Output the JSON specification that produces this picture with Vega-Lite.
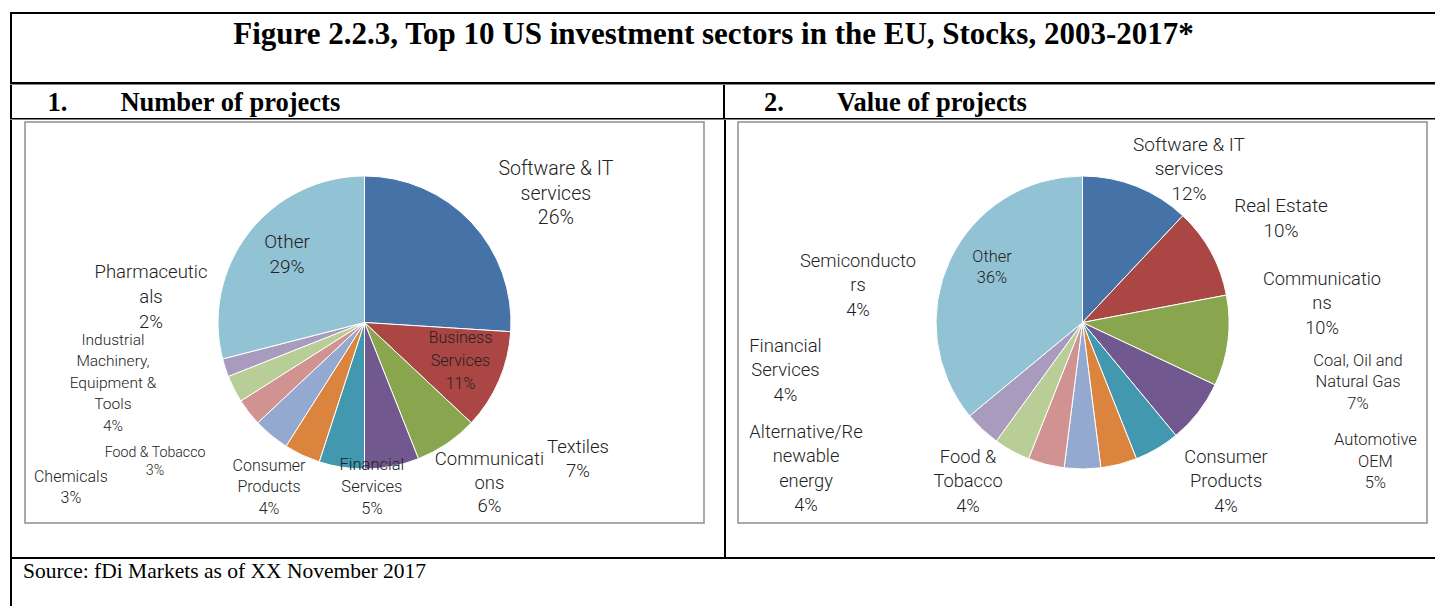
{
  "$schema": "https://vega.github.io/schema/vega-lite/v6.json",
  "padding": {"left": 10, "top": 12, "right": 0, "bottom": 0},
  "background": "white",
  "config": {
    "view": {"stroke": null},
    "text": {"font": "Roboto", "fontWeight": 300, "color": "#222222", "lineBreak": "\n", "align": "center", "baseline": "middle"}
  },
  "datasets": {
    "left": [
      {"sector": "Software & IT services", "label": "Software & IT\nservices", "share": 26, "order": 1},
      {"sector": "Business Services", "label": "Business\nServices", "share": 11, "order": 2},
      {"sector": "Textiles", "label": "Textiles", "share": 7, "order": 3},
      {"sector": "Communications", "label": "Communicati\nons", "share": 6, "order": 4},
      {"sector": "Financial Services", "label": "Financial\nServices", "share": 5, "order": 5},
      {"sector": "Consumer Products", "label": "Consumer\nProducts", "share": 4, "order": 6},
      {"sector": "Industrial Machinery, Equipment & Tools", "label": "Industrial\nMachinery,\nEquipment &\nTools", "share": 4, "order": 7},
      {"sector": "Food & Tobacco", "label": "Food & Tobacco", "share": 3, "order": 8},
      {"sector": "Chemicals", "label": "Chemicals", "share": 3, "order": 9},
      {"sector": "Pharmaceuticals", "label": "Pharmaceutic\nals", "share": 2, "order": 10},
      {"sector": "Other", "label": "Other", "share": 29, "order": 11}
    ],
    "right": [
      {"sector": "Software & IT services", "label": "Software & IT\nservices", "share": 12, "order": 1},
      {"sector": "Real Estate", "label": "Real Estate", "share": 10, "order": 2},
      {"sector": "Communications", "label": "Communicatio\nns", "share": 10, "order": 3},
      {"sector": "Coal, Oil and Natural Gas", "label": "Coal, Oil and\nNatural Gas", "share": 7, "order": 4},
      {"sector": "Automotive OEM", "label": "Automotive\nOEM", "share": 5, "order": 5},
      {"sector": "Consumer Products", "label": "Consumer\nProducts", "share": 4, "order": 6},
      {"sector": "Food & Tobacco", "label": "Food &\nTobacco", "share": 4, "order": 7},
      {"sector": "Alternative/Renewable energy", "label": "Alternative/Re\nnewable\nenergy", "share": 4, "order": 8},
      {"sector": "Financial Services", "label": "Financial\nServices", "share": 4, "order": 9},
      {"sector": "Semiconductors", "label": "Semiconducto\nrs", "share": 4, "order": 10},
      {"sector": "Other", "label": "Other", "share": 36, "order": 11}
    ]
  },
  "spacing": 0,
  "resolve": {"scale": {"color": "independent", "theta": "independent", "x": "independent", "y": "independent"}},
  "vconcat": [
    {"width": 1425, "height": 2, "data": {"values": []}, "mark": {"type": "point", "opacity": 0}, "view": {"fill": "black"}},
    {
      "spacing": 0,
      "hconcat": [
        {"width": 2, "height": 68, "data": {"values": []}, "mark": {"type": "point", "opacity": 0}, "view": {"fill": "black"}},
        {
          "width": 1423, "height": 68,
          "data": {"values": [{"t": "Figure 2.2.3, Top 10 US investment sectors in the EU, Stocks, 2003-2017*"}]},
          "mark": {"type": "text", "font": "Liberation Serif", "fontSize": 31, "fontWeight": "bold", "color": "black", "baseline": "alphabetic", "dx": -10, "dy": -4.5},
          "encoding": {"text": {"field": "t", "type": "nominal"}}
        }
      ]
    },
    {"width": 1425, "height": 2.5, "data": {"values": []}, "mark": {"type": "point", "opacity": 0}, "view": {"fill": "black"}},
    {
      "spacing": 0,
      "resolve": {"scale": {"x": "independent"}},
      "hconcat": [
        {"width": 2, "height": 33, "data": {"values": []}, "mark": {"type": "point", "opacity": 0}, "view": {"fill": "black"}},
        {
          "width": 711, "height": 33,
          "data": {"values": [{"t": "1.\u00a0\u00a0\u00a0\u00a0\u00a0\u00a0\u00a0\u00a0Number of projects"}]},
          "mark": {"type": "text", "font": "Liberation Serif", "fontSize": 26.5, "fontWeight": "bold", "color": "black", "align": "left", "baseline": "alphabetic", "dx": 35.5, "dy": 9},
          "encoding": {
            "x": {"datum": 0, "type": "quantitative", "scale": {"domain": [0, 1]}, "axis": null},
            "text": {"field": "t", "type": "nominal"}
          }
        },
        {"width": 2, "height": 33, "data": {"values": []}, "mark": {"type": "point", "opacity": 0}, "view": {"fill": "black"}},
        {
          "width": 710, "height": 33,
          "data": {"values": [{"t": "2.\u00a0\u00a0\u00a0\u00a0\u00a0\u00a0\u00a0\u00a0Value of projects"}]},
          "mark": {"type": "text", "font": "Liberation Serif", "fontSize": 26.5, "fontWeight": "bold", "color": "black", "align": "left", "baseline": "alphabetic", "dx": 39, "dy": 9},
          "encoding": {
            "x": {"datum": 0, "type": "quantitative", "scale": {"domain": [0, 1]}, "axis": null},
            "text": {"field": "t", "type": "nominal"}
          }
        }
      ]
    },
    {"width": 1425, "height": 1.5, "data": {"values": []}, "mark": {"type": "point", "opacity": 0}, "view": {"fill": "black"}},
    {
      "spacing": 0,
      "resolve": {"scale": {"color": "independent", "theta": "independent"}},
      "hconcat": [
        {"width": 2, "height": 437, "data": {"values": []}, "mark": {"type": "point", "opacity": 0}, "view": {"fill": "black"}},
        {"width": 12, "height": 1, "data": {"values": []}, "mark": {"type": "point", "opacity": 0}},
        {
          "spacing": 0,
          "vconcat": [
            {"width": 679, "height": 1, "data": {"values": []}, "mark": {"type": "point", "opacity": 0}},
            {
              "width": 679, "height": 401,
              "data": {"name": "left"},
              "transform": [
                {"stack": "share", "groupby": [], "sort": [{"field": "order", "order": "ascending"}], "as": ["s0", "s1"]},
                {"calculate": "(datum.s0 + datum.s1) / 2", "as": "mid"},
                {"calculate": "datum.label + '\\n' + datum.share + '%'", "as": "txt"}
              ],
              "view": {"stroke": "#8f8f8f", "strokeWidth": 1.5},
              "encoding": {
                "theta": {"field": "mid", "type": "quantitative", "stack": null, "scale": {"domain": [0, 100]}},
                "text": {"field": "txt", "type": "nominal"}
              },
              "layer": [
                {
                  "mark": {"type": "arc", "radius": 146.5, "stroke": "#ffffff", "strokeWidth": 1},
                  "encoding": {
                    "theta": {"field": "s0", "type": "quantitative", "stack": null, "scale": {"domain": [0, 100]}},
                    "theta2": {"field": "s1"},
                    "text": {"value": ""},
                    "color": {"field": "sector", "type": "nominal", "legend": null,
                      "scale": {"domain": ["Software & IT services", "Business Services", "Textiles", "Communications", "Financial Services", "Consumer Products", "Industrial Machinery, Equipment & Tools", "Food & Tobacco", "Chemicals", "Pharmaceuticals", "Other"],
                                "range": ["#4572A7", "#AA4643", "#89A54E", "#71588F", "#4198AF", "#DB843D", "#93A9CF", "#D19392", "#B9CD96", "#A99BBD", "#92C3D5"]}}
                  }
                },
                {"transform": [{"filter": "datum.sector === 'Software & IT services'"}], "mark": {"type": "text", "radius": 230.6, "thetaOffset": 0.162, "fontSize": 19.5, "lineHeight": 24.5, "dy": -24.5}},
                {"transform": [{"filter": "datum.sector === 'Business Services'"}], "mark": {"type": "text", "radius": 103.4, "thetaOffset": -0.027, "fontSize": 16, "lineHeight": 23, "dy": -23}},
                {"transform": [{"filter": "datum.sector === 'Textiles'"}], "mark": {"type": "text", "radius": 253.4, "thetaOffset": -0.405, "fontSize": 18.5, "lineHeight": 24, "dy": -12}},
                {"transform": [{"filter": "datum.sector === 'Communications'"}], "mark": {"type": "text", "radius": 203.4, "thetaOffset": -0.473, "fontSize": 18.5, "lineHeight": 23.5, "dy": -23.5}},
                {"transform": [{"filter": "datum.sector === 'Financial Services'"}], "mark": {"type": "text", "radius": 164.7, "thetaOffset": -0.202, "fontSize": 16.5, "lineHeight": 22, "dy": -22}},
                {"transform": [{"filter": "datum.sector === 'Consumer Products'"}], "mark": {"type": "text", "radius": 190.2, "thetaOffset": 0.086, "fontSize": 16, "lineHeight": 21.5, "dy": -21.5}},
                {"transform": [{"filter": "datum.sector === 'Industrial Machinery, Equipment & Tools'"}], "mark": {"type": "text", "radius": 258.7, "thetaOffset": 0.644, "fontSize": 15.5, "lineHeight": 21.5, "dy": -43}},
                {"transform": [{"filter": "datum.sector === 'Food & Tobacco'"}], "mark": {"type": "text", "radius": 251.7, "thetaOffset": 0.072, "fontSize": 14.2, "lineHeight": 18, "dy": -9}},
                {"transform": [{"filter": "datum.sector === 'Chemicals'"}], "mark": {"type": "text", "radius": 336.7, "thetaOffset": -0.04, "fontSize": 16, "lineHeight": 21, "dy": -10.5}},
                {"transform": [{"filter": "datum.sector === 'Pharmaceuticals'"}], "mark": {"type": "text", "radius": 215, "thetaOffset": 0.433, "fontSize": 18.5, "lineHeight": 25, "dy": -25}},
                {"transform": [{"filter": "datum.sector === 'Other'"}], "mark": {"type": "text", "radius": 103.1, "thetaOffset": 0.061, "fontSize": 19, "lineHeight": 25, "dy": -12.5}}
              ]
            }
          ]
        },
        {"width": 18.5, "height": 1, "data": {"values": []}, "mark": {"type": "point", "opacity": 0}},
        {"width": 2, "height": 437, "data": {"values": []}, "mark": {"type": "point", "opacity": 0}, "view": {"fill": "black"}},
        {"width": 11, "height": 1, "data": {"values": []}, "mark": {"type": "point", "opacity": 0}},
        {
          "spacing": 0,
          "vconcat": [
            {"width": 689, "height": 1, "data": {"values": []}, "mark": {"type": "point", "opacity": 0}},
            {
              "width": 689, "height": 401,
              "data": {"name": "right"},
              "transform": [
                {"stack": "share", "groupby": [], "sort": [{"field": "order", "order": "ascending"}], "as": ["s0", "s1"]},
                {"calculate": "(datum.s0 + datum.s1) / 2", "as": "mid"},
                {"calculate": "datum.label + '\\n' + datum.share + '%'", "as": "txt"}
              ],
              "view": {"stroke": "#8f8f8f", "strokeWidth": 1.5},
              "encoding": {
                "theta": {"field": "mid", "type": "quantitative", "stack": null, "scale": {"domain": [0, 100]}},
                "text": {"field": "txt", "type": "nominal"}
              },
              "layer": [
                {
                  "mark": {"type": "arc", "radius": 146.5, "stroke": "#ffffff", "strokeWidth": 1},
                  "encoding": {
                    "theta": {"field": "s0", "type": "quantitative", "stack": null, "scale": {"domain": [0, 100]}},
                    "theta2": {"field": "s1"},
                    "text": {"value": ""},
                    "color": {"field": "sector", "type": "nominal", "legend": null,
                      "scale": {"domain": ["Software & IT services", "Real Estate", "Communications", "Coal, Oil and Natural Gas", "Automotive OEM", "Consumer Products", "Food & Tobacco", "Alternative/Renewable energy", "Financial Services", "Semiconductors", "Other"],
                                "range": ["#4572A7", "#AA4643", "#89A54E", "#71588F", "#4198AF", "#DB843D", "#93A9CF", "#D19392", "#B9CD96", "#A99BBD", "#92C3D5"]}}
                  }
                },
                {"transform": [{"filter": "datum.sector === 'Software & IT services'"}], "mark": {"type": "text", "radius": 186.8, "thetaOffset": 0.2295, "fontSize": 19, "lineHeight": 24.5, "dy": -24.5}},
                {"transform": [{"filter": "datum.sector === 'Real Estate'"}], "mark": {"type": "text", "radius": 224.1, "thetaOffset": 0.02, "fontSize": 19, "lineHeight": 25, "dy": -12.5}},
                {"transform": [{"filter": "datum.sector === 'Communications'"}], "mark": {"type": "text", "radius": 240.2, "thetaOffset": -0.201, "fontSize": 18.3, "lineHeight": 24.5, "dy": -24.5}},
                {"transform": [{"filter": "datum.sector === 'Coal, Oil and Natural Gas'"}], "mark": {"type": "text", "radius": 281.9, "thetaOffset": -0.447, "fontSize": 16.5, "lineHeight": 21.5, "dy": -21.5}},
                {"transform": [{"filter": "datum.sector === 'Automotive OEM'"}], "mark": {"type": "text", "radius": 324.3, "thetaOffset": -0.593, "fontSize": 16.5, "lineHeight": 21.5, "dy": -21.5}},
                {"transform": [{"filter": "datum.sector === 'Consumer Products'"}], "mark": {"type": "text", "radius": 214.9, "thetaOffset": -0.48, "fontSize": 18.3, "lineHeight": 24.5, "dy": -24.5}},
                {"transform": [{"filter": "datum.sector === 'Food & Tobacco'"}], "mark": {"type": "text", "radius": 196.7, "thetaOffset": 0.621, "fontSize": 18.3, "lineHeight": 24.5, "dy": -24.5}},
                {"transform": [{"filter": "datum.sector === 'Alternative/Renewable energy'"}], "mark": {"type": "text", "radius": 313.1, "thetaOffset": 0.831, "fontSize": 18.3, "lineHeight": 24.5, "dy": -36.75}},
                {"transform": [{"filter": "datum.sector === 'Financial Services'"}], "mark": {"type": "text", "radius": 300.9, "thetaOffset": 0.908, "fontSize": 18.5, "lineHeight": 24.5, "dy": -24.5}},
                {"transform": [{"filter": "datum.sector === 'Semiconductors'"}], "mark": {"type": "text", "radius": 227.4, "thetaOffset": 0.976, "fontSize": 18.3, "lineHeight": 24.5, "dy": -24.5}},
                {"transform": [{"filter": "datum.sector === 'Other'"}], "mark": {"type": "text", "radius": 105.9, "thetaOffset": 0.106, "fontSize": 16.4, "lineHeight": 21, "dy": -10.5}}
              ]
            }
          ]
        }
      ]
    },
    {"width": 1425, "height": 2, "data": {"values": []}, "mark": {"type": "point", "opacity": 0}, "view": {"fill": "black"}},
    {
      "spacing": 0,
      "resolve": {"scale": {"x": "independent"}},
      "hconcat": [
        {"width": 2, "height": 48, "data": {"values": []}, "mark": {"type": "point", "opacity": 0}, "view": {"fill": "black"}},
        {
          "width": 1423, "height": 48,
          "data": {"values": [{"t": "Source: fDi Markets as of XX November 2017"}]},
          "mark": {"type": "text", "font": "Liberation Serif", "fontSize": 21.5, "fontWeight": "normal", "color": "black", "align": "left", "baseline": "alphabetic", "dx": 11, "dy": -5},
          "encoding": {
            "x": {"datum": 0, "type": "quantitative", "scale": {"domain": [0, 1]}, "axis": null},
            "text": {"field": "t", "type": "nominal"}
          }
        }
      ]
    }
  ]
}
